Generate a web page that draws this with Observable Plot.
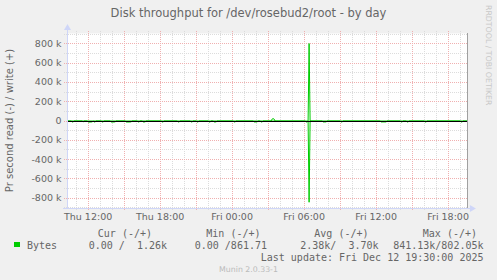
<!DOCTYPE html>
<html><head><meta charset="utf-8">
<script src="https://cdn.jsdelivr.net/npm/d3@7"></script>
<script src="https://cdn.jsdelivr.net/npm/@observablehq/plot@0.6"></script>
<style>
html,body{margin:0;padding:0;background:#f0f0f0;}
#chart{width:497px;height:280px;overflow:hidden;}
text.pre{white-space:pre;}
</style></head><body><div id="chart"></div>
<script>
const title = "Disk throughput for /dev/rosebud2/root - by day";
const yLabel = "Pr second read (-) / write (+)";
const viewStart = "2025-12-11T10:17";
const viewEnd = "2025-12-12T19:37";
const sampleStart = "2025-12-11T10:20";
const sampleEnd = "2025-12-12T19:35";

// read (bytes/s, thousands) — drawn below zero
const readTimes = [
  "2025-12-11T10:40","2025-12-11T10:45","2025-12-11T11:35",
  "2025-12-11T12:00","2025-12-11T12:05","2025-12-11T12:10","2025-12-11T12:15","2025-12-11T12:20",
  "2025-12-11T12:30","2025-12-11T12:35","2025-12-11T13:10","2025-12-11T13:15",
  "2025-12-11T13:55","2025-12-11T14:00","2025-12-11T14:05","2025-12-11T14:10","2025-12-11T14:15",
  "2025-12-11T15:10","2025-12-11T15:15","2025-12-11T15:20","2025-12-11T15:25","2025-12-11T15:30","2025-12-11T15:35",
  "2025-12-11T16:10","2025-12-11T16:15","2025-12-11T16:35","2025-12-11T16:40","2025-12-11T16:45",
  "2025-12-11T18:10","2025-12-11T18:15","2025-12-11T19:30","2025-12-11T19:35",
  "2025-12-11T20:35","2025-12-11T20:40","2025-12-11T21:05","2025-12-11T21:10",
  "2025-12-11T22:05","2025-12-11T22:10","2025-12-11T22:30","2025-12-11T22:35","2025-12-11T22:40",
  "2025-12-12T00:10","2025-12-12T00:15","2025-12-12T01:50","2025-12-12T01:55","2025-12-12T02:00","2025-12-12T02:05",
  "2025-12-12T02:25","2025-12-12T02:30","2025-12-12T06:10","2025-12-12T06:15","2025-12-12T06:25",
  "2025-12-12T07:35","2025-12-12T07:40","2025-12-12T07:45","2025-12-12T07:50",
  "2025-12-12T09:05","2025-12-12T09:10",
  "2025-12-12T12:25","2025-12-12T12:30","2025-12-12T12:35","2025-12-12T12:40","2025-12-12T12:45","2025-12-12T12:50",
  "2025-12-12T14:05","2025-12-12T14:10","2025-12-12T14:35","2025-12-12T14:40",
  "2025-12-12T16:05","2025-12-12T16:10","2025-12-12T19:05","2025-12-12T19:10"
];
const readValues = [
  10,10,10,
  10,11,11,10,10,
  10,10,10,10,
  10,11,11,10,10,
  10,11,11,11,10,10,
  10,10,10,10,10,
  10,10,10,10,
  10,10,10,10,
  10,10,10,10,10,
  10,10,10,10,10,10,
  10,10,10,10,841.13,
  10,10,10,10,
  10,10,
  10,10,10,10,10,10,
  10,10,10,10,
  10,10,10,10
];
// write (bytes/s, thousands) — drawn above zero
const writeTimes = ["2025-12-12T03:20","2025-12-12T03:25","2025-12-12T03:30","2025-12-12T06:25"];
const writeValues = [20, 25, 20, 802.05];

const yTicks = [-800, -600, -400, -200, 0, 200, 400, 600, 800];
const yTickLabels = ["-800 k","-600 k","-400 k","-200 k","0","200 k","400 k","600 k","800 k"];
const xTickTimes = ["2025-12-11T12:00","2025-12-11T18:00","2025-12-12T00:00","2025-12-12T06:00","2025-12-12T12:00","2025-12-12T18:00"];
const xTickLabels = ["Thu 12:00","Thu 18:00","Fri 00:00","Fri 06:00","Fri 12:00","Fri 18:00"];

const seriesName = "Bytes";
const legendHeaders = ["Cur (-/+)","Min (-/+)","Avg (-/+)","Max (-/+)"];
const legendValues = ["0.00 /  1.26k","0.00 /861.71","2.38k/  3.70k","841.13k/802.05k"];
const lastUpdate = "Last update: Fri Dec 12 19:30:00 2025";
const footer = "Munin 2.0.33-1";
const watermark = "RRDTOOL / TOBI OETIKER";

// ---- build
const P = s => new Date(s);
const x0 = P(viewStart), x1 = P(viewEnd);
const step = 5 * 60 * 1000;
const readMap = new Map(readTimes.map((t, i) => [+P(t), readValues[i]]));
const writeMap = new Map(writeTimes.map((t, i) => [+P(t), writeValues[i]]));
const rows = [];
for (let t = +P(sampleStart); t <= +P(sampleEnd); t += step) {
  rows.push({t: new Date(t), read: -(readMap.get(t) || 0) * 1000, write: (writeMap.get(t) || 0) * 1000});
}
const YMAX = 906000;
const minorY = d3.range(-900000, 900001, 100000).filter(v => v % 200000 !== 0);
const majorY = d3.range(-800000, 800001, 200000);
const hours = d3.timeHour.range(x0, x1);
const minorX = hours.filter(d => d.getHours() % 3 !== 0);
const majorX = hours.filter(d => d.getHours() % 3 === 0);
const MS = 60000;
const gxL = new Date(+x0 - 15 * MS);
const yTop = YMAX * (1 + 2 / 87.5), yBot = -YMAX * (1 + 3 / 87.5);

const grid = {stroke: "#dcdcdc", strokeDasharray: "1,1", shapeRendering: "crispEdges"};
const mgrid = {stroke: "#f0b0b0", strokeDasharray: "1,1", shapeRendering: "crispEdges"};
const axisC = "#cfd6f8";

const plot = Plot.plot({
  width: 497, height: 280,
  marginLeft: 67, marginRight: 30, marginTop: 33, marginBottom: 72,
  x: {type: "time", domain: [x0, x1]},
  y: {domain: [-YMAX, YMAX]},
  style: {background: "transparent", fontFamily: "DejaVu Sans", fontSize: "9.5px", color: "#666666", overflow: "visible"},
  marks: [
    Plot.frame({fill: "white", stroke: null}),
    Plot.ruleY(minorY, {y: d => d, x1: () => gxL, x2: () => x1, ...grid}),
    Plot.ruleX(minorX, {x: d => d, y1: () => yTop, y2: () => yBot, ...grid}),
    Plot.ruleY(majorY, {y: d => d, x1: () => gxL, x2: () => x1, ...mgrid}),
    Plot.ruleX(majorX, {x: d => d, y1: () => yTop, y2: () => yBot, ...mgrid}),
    Plot.lineY(rows, {x: "t", y: "read", stroke: "#00cc00", strokeWidth: 1}),
    Plot.lineY(rows, {x: "t", y: "write", stroke: "#00cc00", strokeWidth: 1}),
    Plot.ruleY([0], {stroke: "#000", strokeWidth: 1, shapeRendering: "crispEdges"}),
    // axes lines
    Plot.ruleX([x0], {x: d => d, y1: () => -YMAX, y2: () => YMAX * (1 + 5 / 87.5), stroke: axisC, shapeRendering: "crispEdges"}),
    Plot.ruleY([-YMAX], {y: d => d, x1: () => new Date(+x0 - 20 * MS), x2: () => new Date(+x1 + 20 * MS), stroke: axisC, shapeRendering: "crispEdges"}),
    Plot.ruleX([x1], {x: d => d, y1: () => -YMAX, y2: () => YMAX, stroke: "#a0a0a0", shapeRendering: "crispEdges"}),
    Plot.dot([0], {x: () => x0, y: () => YMAX * (1 + 5.5 / 87.5), symbol: "triangle", r: 2.6, fill: axisC, stroke: null}),
    Plot.dot([0], {x: () => new Date(+x1 + 22 * MS), y: () => -YMAX, symbol: "triangle", r: 2.6, rotate: 90, fill: axisC, stroke: null}),
    Plot.axisY({ticks: yTicks.map(v => v * 1000), tickFormat: (d) => yTickLabels[yTicks.indexOf(d / 1000)], tickSize: 0, tickPadding: 6, label: null, fill: "#666666"}),
    Plot.axisX({ticks: xTickTimes.map(P), tickFormat: (d) => xTickLabels[xTickTimes.map(s => +P(s)).indexOf(+d)], tickSize: 0, tickPadding: 5, label: null, fill: "#666666"})
  ]
});
document.getElementById("chart").appendChild(plot);

const svg = d3.select(plot);
const txt = (x, y, s, o = {}) => svg.append("text").attr("class", "pre").attr("x", x).attr("y", y)
  .attr("fill", o.fill || "#666666").attr("font-family", o.font || "DejaVu Sans").attr("font-size", o.size || "10px")
  .attr("text-anchor", o.anchor || "start").text(s);

txt(248.5, 17, title, {size: "11.5px", anchor: "middle"});
txt(0, 0, yLabel, {size: "10px", anchor: "middle"}).attr("x", null).attr("y", null).attr("transform", "translate(13,120.5) rotate(-90)");
txt(0, 0, watermark, {size: "7.8px", fill: "#c8c8c8"}).attr("x", null).attr("y", null).attr("transform", "translate(485.5,5) rotate(90)");

const mono = "DejaVu Sans Mono";
const headerEnds = [152, 260.5, 368.5, 477];
const valueEnds = [167, 267, 378.5, 483.5];
legendHeaders.forEach((h, i) => txt(headerEnds[i], 236.5, h, {font: mono, anchor: "end"}));
legendValues.forEach((v, i) => txt(valueEnds[i], 249, v, {font: mono, anchor: "end"}));
svg.append("rect").attr("x", 14).attr("y", 242).attr("width", 6).attr("height", 5).attr("fill", "#00cc00").attr("shape-rendering", "crispEdges");
txt(27, 249, seriesName, {font: mono});
txt(483.5, 260.5, lastUpdate, {font: mono, anchor: "end"});
txt(248.5, 271.5, footer, {size: "7.8px", fill: "#bbbbbb", anchor: "middle"});
</script></body></html>
